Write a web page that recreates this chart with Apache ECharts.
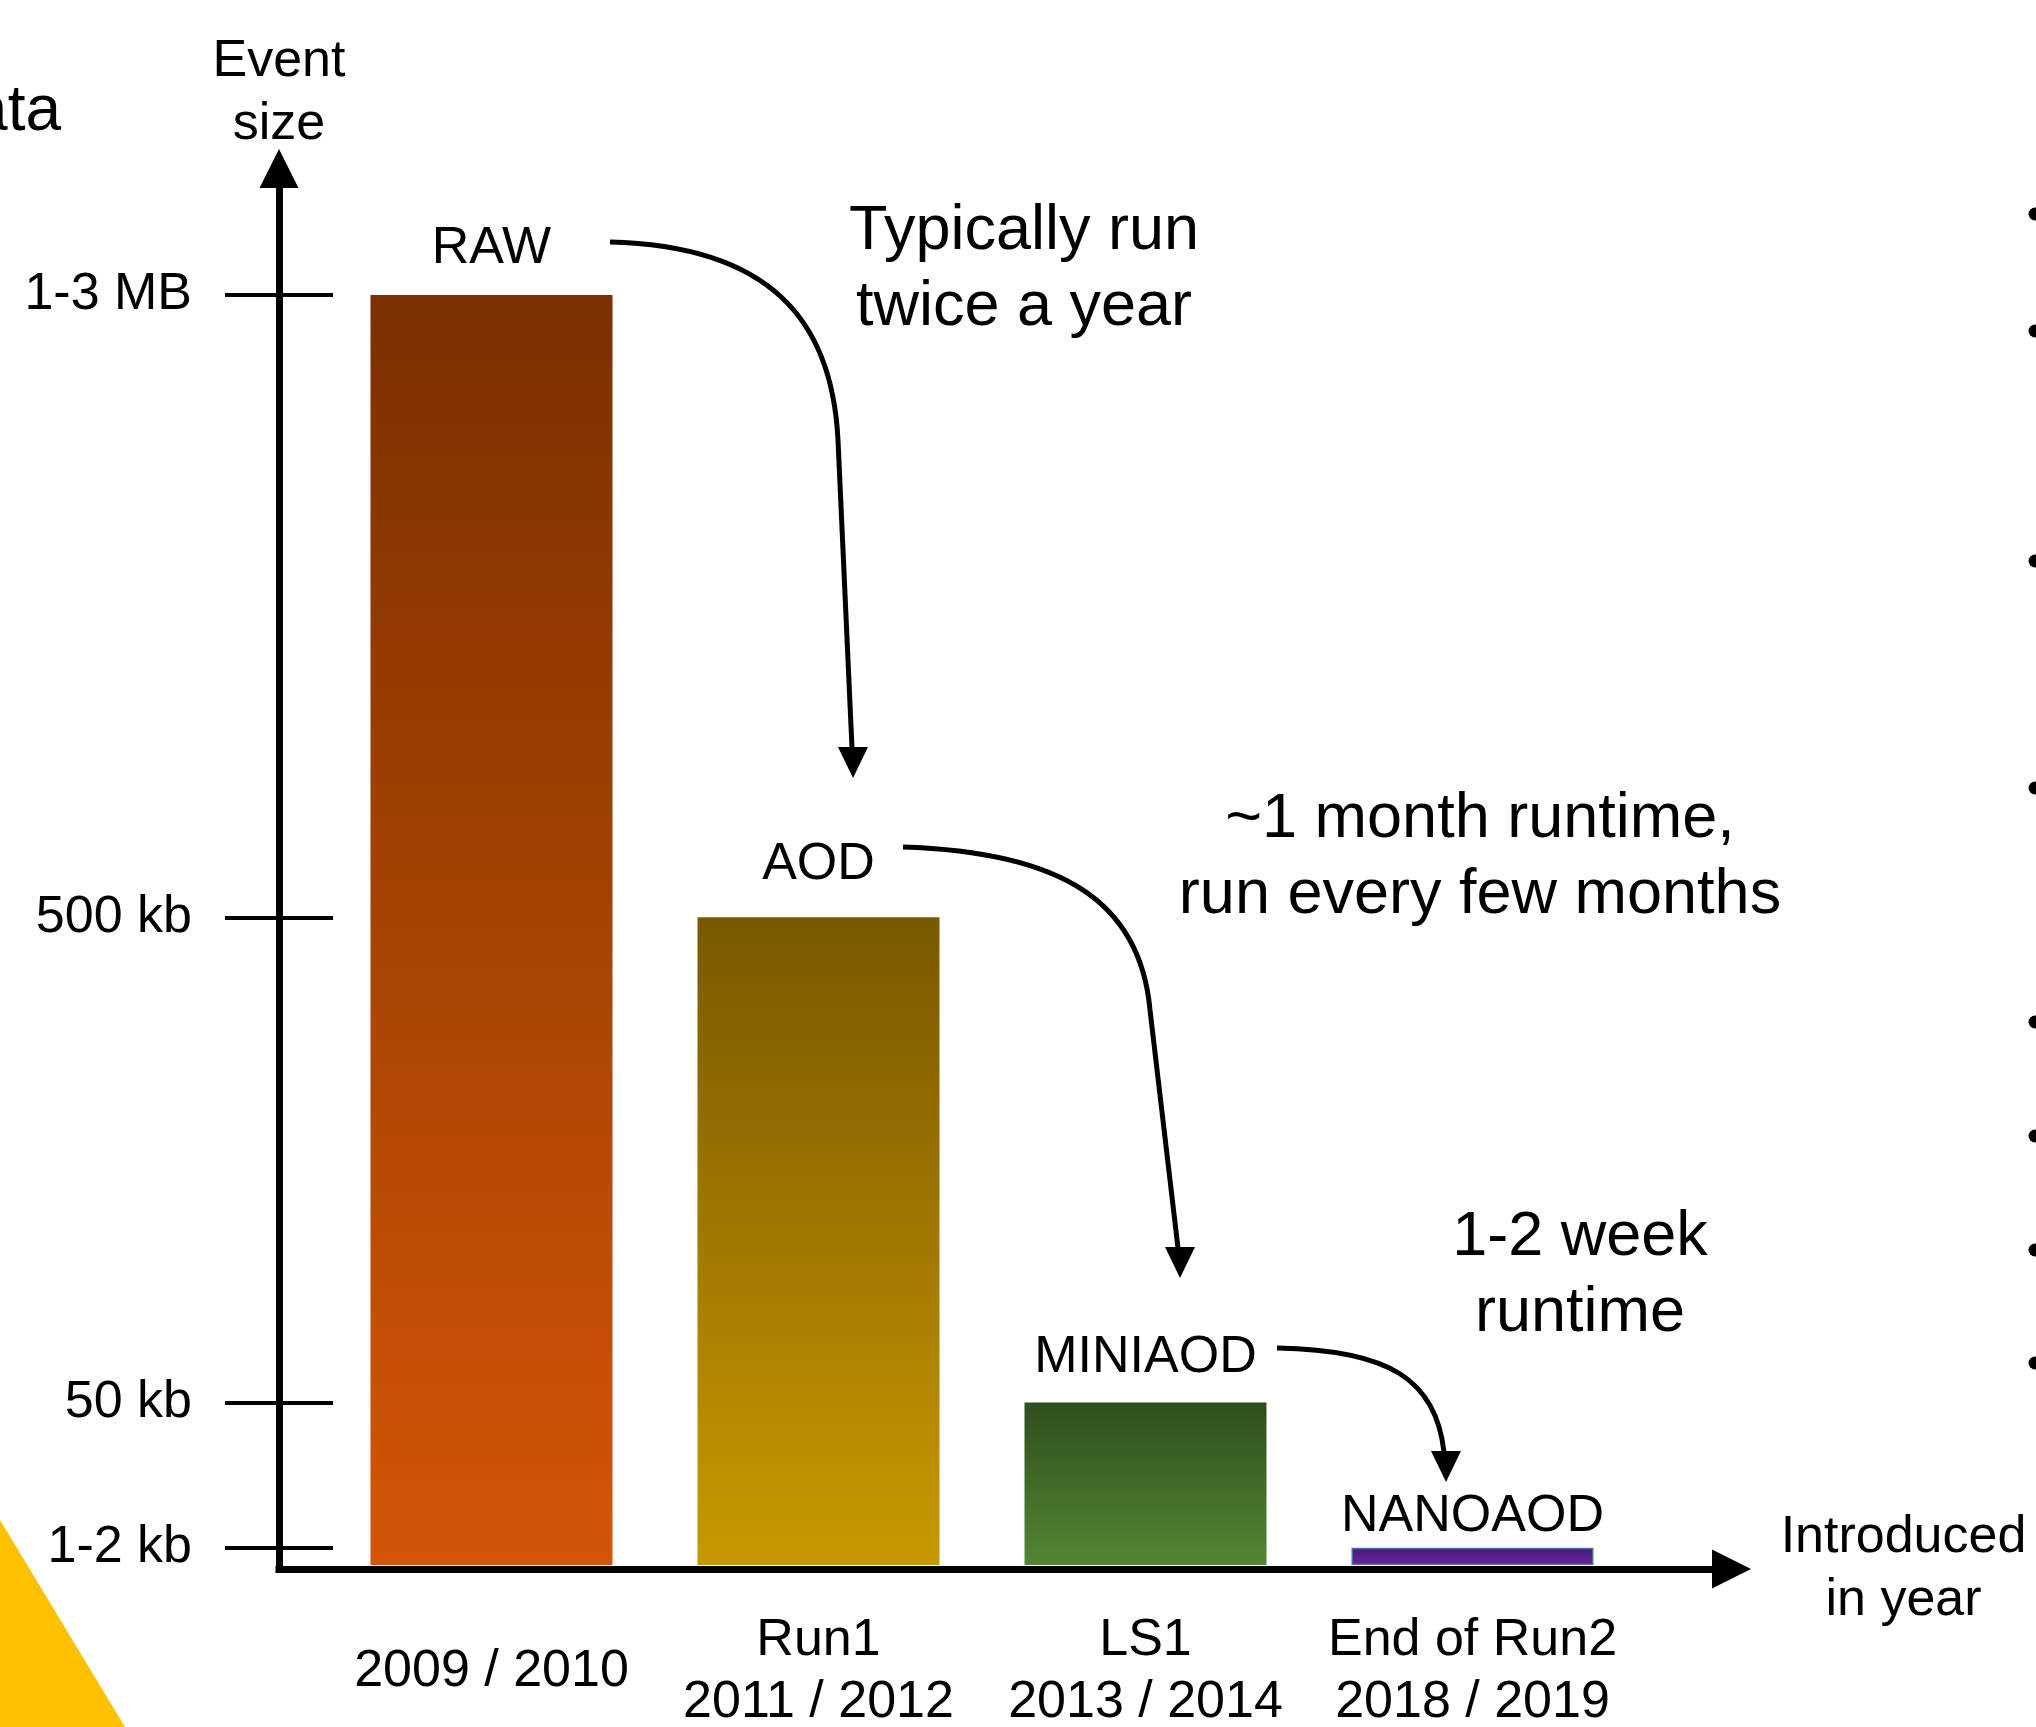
<!DOCTYPE html>
<html>
<head>
<meta charset="utf-8">
<title>Event size per data tier</title>
<script src="https://cdn.jsdelivr.net/npm/echarts@6/dist/echarts.min.js"></script>
<style>
  html, body { margin: 0; padding: 0; background: #fff; }
  #main { width: 2036px; height: 1727px; }
</style>
</head>
<body>
<div id="main"></div>
<script>
// data tiers, oldest first
const categories = ['2009 / 2010', 'Run1\n2011 / 2012', 'LS1\n2013 / 2014', 'End of Run2\n2018 / 2019'];
const tiers = ['RAW', 'AOD', 'MINIAOD', 'NANOAOD'];
// schematic heights, the axis is not to scale (RAW = 100)
const eventSize = [100, 51, 12.8, 1.35];
const sizeTicks = [1.35, 12.8, 51, 100];
const sizeTickLabels = ['1-2 kb', '50 kb', '500 kb', '1-3 MB'];
const runNotes = ['Typically run\ntwice a year', '~1 month runtime,\nrun every few months', '1-2 week\nruntime'];

const FONT = '"Liberation Sans", Arial, sans-serif';
const barColors = [
  ['#7b3000', '#d35606'],
  ['#7a5900', '#c89800'],
  ['#2f4e1c', '#548634'],
  ['#48187a', '#6a22a2']
];
const labelGap = [20, 27, 19, 5];

const barData = eventSize.map(function (v, i) {
  return {
    value: v,
    itemStyle: {
      color: new echarts.graphic.LinearGradient(0, 0, 0, 1, [
        { offset: 0, color: barColors[i][0] },
        { offset: 1, color: barColors[i][1] }
      ]),
      borderColor: i === 3 ? '#4d6fa3' : 'transparent',
      borderWidth: i === 3 ? 1.5 : 0
    },
    label: { distance: labelGap[i] }
  };
});

// hand drawn style arrows between the tiers
function arrow(p0, c1, c2, p1, lineEnd, tip) {
  const els = [{
    type: 'bezierCurve',
    shape: { x1: p0[0], y1: p0[1], cpx1: c1[0], cpy1: c1[1], cpx2: c2[0], cpy2: c2[1], x2: p1[0], y2: p1[1] },
    style: { stroke: '#000', lineWidth: 5, fill: 'none' }
  }];
  if (lineEnd) {
    els.push({
      type: 'line',
      shape: { x1: p1[0], y1: p1[1], x2: lineEnd[0], y2: lineEnd[1] },
      style: { stroke: '#000', lineWidth: 5 }
    });
  }
  els.push({
    type: 'polygon',
    shape: { points: [[tip[0] - 15, tip[1] - 31], [tip[0] + 15, tip[1] - 31], tip] },
    style: { fill: '#000' }
  });
  return els;
}

function note(text, x, y) {
  return {
    type: 'text', x: x, y: y,
    style: { text: text, fill: '#000', font: '63px ' + FONT, align: 'center', verticalAlign: 'middle', lineHeight: 76 }
  };
}

const bulletY = [214, 331, 561, 788, 1022, 1136, 1250, 1363];

const graphics = []
  .concat(arrow([610, 242], [770, 246], [832, 320], [838, 440], [852, 748], [853, 778]))
  .concat(arrow([903, 847], [1060, 852], [1140, 900], [1150, 1010], [1178, 1248], [1180, 1278]))
  .concat(arrow([1277, 1348], [1390, 1350], [1436, 1380], [1444, 1452], null, [1446, 1482]))
  .concat([
    note(runNotes[0], 1024, 270),
    note(runNotes[1], 1480, 858),
    note(runNotes[2], 1580, 1276),
    // bits of the surrounding slide
    { type: 'text', x: 61, y: 112, style: { text: 'data', fill: '#000', font: '64px ' + FONT, align: 'right', verticalAlign: 'middle' } },
    { type: 'polygon', shape: { points: [[0, 1520], [125, 1727], [0, 1727]] }, style: { fill: '#ffc000' } }
  ])
  .concat(bulletY.map(function (y) {
    return { type: 'circle', shape: { cx: 2035, cy: y, r: 6.5 }, style: { fill: '#000' } };
  }));

const myChart = echarts.init(document.getElementById('main'));

const option = {
  animation: false,
  backgroundColor: '#fff',
  textStyle: { fontFamily: FONT },
  grid: [
    { left: 328, right: 400, top: 295, bottom: 162, outerBoundsMode: 'none' },
    // grid that only carries the two arrow axes
    { left: 279, right: 304.5, top: 168.5, bottom: 158, outerBoundsMode: 'none' }
  ],
  xAxis: [
    {
      type: 'category',
      gridIndex: 0,
      data: categories,
      axisLine: { show: false },
      axisTick: { show: false },
      axisLabel: {
        interval: 0, color: '#000', fontSize: 52, lineHeight: 62,
        verticalAlign: 'middle', margin: 107, fontFamily: FONT
      }
    },
    {
      type: 'value',
      gridIndex: 1,
      min: 0, max: 1,
      axisLine: {
        show: true, onZero: false,
        symbol: ['none', 'triangle'], symbolSize: [39, 39],
        lineStyle: { color: '#000', width: 7, cap: 'square' }
      },
      axisTick: { show: false },
      axisLabel: { show: false },
      splitLine: { show: false },
      name: 'Introduced\nin year',
      nameLocation: 'end',
      nameGap: 172,
      nameTextStyle: { color: '#000', fontSize: 52, lineHeight: 63, align: 'center', verticalAlign: 'middle', fontFamily: FONT, padding: [4, 0, 0, 0] }
    }
  ],
  yAxis: [
    {
      type: 'value',
      gridIndex: 0,
      position: 'left',
      min: 0, max: 100,
      offset: 49,
      axisLine: { show: false },
      axisTick: { show: true, length: 54, customValues: sizeTicks, lineStyle: { color: '#000', width: 4 } },
      axisLabel: {
        customValues: sizeTicks,
        formatter: function (v) { return sizeTickLabels[sizeTicks.indexOf(v)]; },
        color: '#000', fontSize: 52, margin: 87, fontFamily: FONT,
        padding: [6, 0, 0, 0]
      },
      splitLine: { show: false }
    },
    {
      type: 'value',
      gridIndex: 1,
      position: 'left',
      min: 0, max: 1,
      axisLine: {
        show: true, onZero: false,
        symbol: ['none', 'triangle'], symbolSize: [39, 39],
        lineStyle: { color: '#000', width: 7, cap: 'square' }
      },
      axisTick: { show: false },
      axisLabel: { show: false },
      splitLine: { show: false },
      name: 'Event\nsize',
      nameLocation: 'end',
      nameGap: 75,
      nameTextStyle: { color: '#000', fontSize: 52, lineHeight: 63, align: 'center', verticalAlign: 'middle', fontFamily: FONT }
    },
    {
      // inner half of the crossing ticks
      type: 'value',
      gridIndex: 0,
      position: 'left',
      min: 0, max: 100,
      offset: 49,
      axisLine: { show: false },
      axisTick: { show: true, inside: true, length: 54, customValues: sizeTicks, lineStyle: { color: '#000', width: 4 } },
      axisLabel: { show: false },
      splitLine: { show: false }
    }
  ],
  series: [
    {
      type: 'bar',
      xAxisIndex: 0,
      yAxisIndex: 0,
      barWidth: 242,
      data: barData,
      label: {
        show: true,
        position: 'top',
        formatter: function (p) { return tiers[p.dataIndex]; },
        color: '#000',
        fontSize: 52,
        lineHeight: 52,
        fontFamily: FONT
      }
    }
  ],
  graphic: graphics
};

option && myChart.setOption(option);
</script>
</body>
</html>
